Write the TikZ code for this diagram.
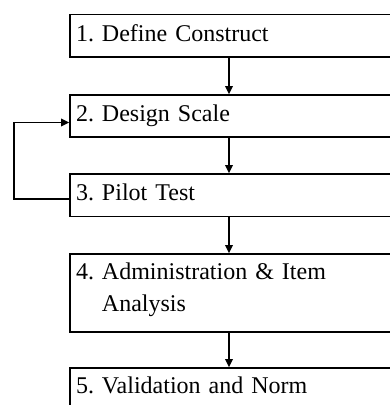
\documentclass[tikz,border=0pt]{standalone}
\usepackage{fontspec}
\setmainfont{Liberation Serif}
\usetikzlibrary{arrows.meta}
\frenchspacing
\begin{document}
\begin{tikzpicture}[x=1pt,y=-1pt,
  box/.style={draw, line width=1.7pt, minimum width=350pt, text width=338pt,
    inner xsep=6pt, inner ysep=2pt, align=left,
    font=\fontsize{24}{32}\selectfont\frenchspacing, text height=16pt, text depth=5pt},
  arr/.style={line width=1.7pt, -{Triangle[length=8pt,width=7.5pt]}}]
\useasboundingbox (0,0) rectangle (390,405);
\clip (0,0) rectangle (390,405);
\fill[white] (0,0) rectangle (390,405);
\coordinate (ax) at (229,0);
\coordinate (lx) at (14,0);
\node[box, minimum height=42.5pt] (b1) at (245,35.75) {1. Define Construct};
\node[box, minimum height=42pt] (b2) at (245,116) {2. Design Scale};
\node[box, minimum height=42.5pt] (b3) at (245,195.25) {3. Pilot Test};
\node[box, minimum height=78pt, text depth=44pt] (b4) at (245,293) {4. Administration \& Item\\\hphantom{4.~}Analysis};
\node[box, minimum height=40pt] (b5) at (245,388) {5. Validation and Norm};
\coordinate (l3) at ([yshift=-3.75pt]b3.west);
\coordinate (l2) at ([yshift=-6.5pt]b2.west);
\draw[arr] (b1.south -| ax) -- (b2.north -| ax);
\draw[arr] (b2.south -| ax) -- (b3.north -| ax);
\draw[arr] (b3.south -| ax) -- (b4.north -| ax);
\draw[arr] (b4.south -| ax) -- (b5.north -| ax);
\draw[arr] (l3) -| (lx |- l2) -- (l2);
\end{tikzpicture}
\end{document}
